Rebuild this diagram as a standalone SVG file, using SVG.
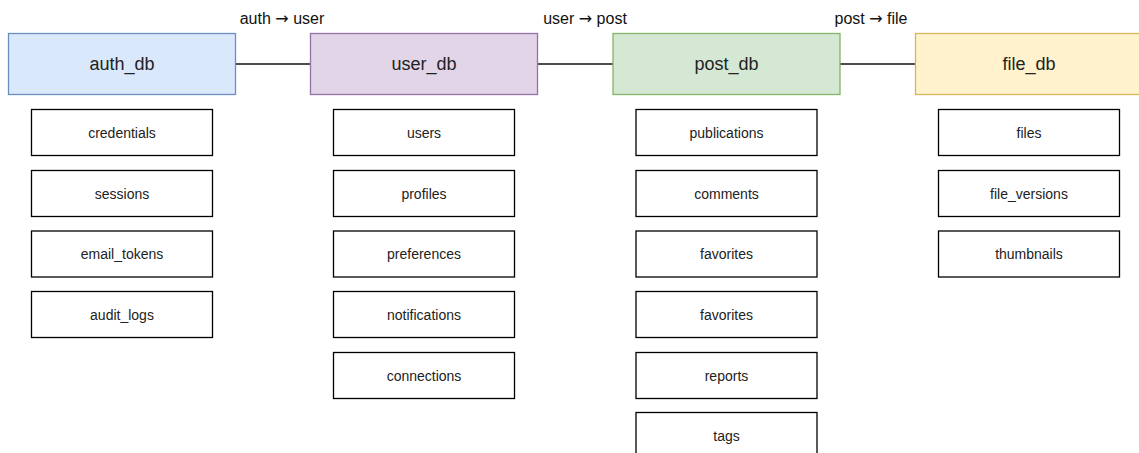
<svg xmlns="http://www.w3.org/2000/svg" width="1139" height="453" viewBox="0 0 1139 453">
<style>
.db{stroke-width:1.3}
.t{fill:#fff;stroke:#000;stroke-width:1.3}
.nl{font-family:"Liberation Sans",Arial,sans-serif;font-size:18px;fill:#222;text-anchor:middle;dominant-baseline:central}
.tl{font-family:"Liberation Sans",Arial,sans-serif;font-size:14px;fill:#222;text-anchor:middle;dominant-baseline:central}
.el{font-family:"Liberation Sans",Arial,sans-serif;font-size:16px;fill:#111;text-anchor:middle}
.ar{font-family:"DejaVu Sans",sans-serif;fill:#111}
.c{stroke:#111;stroke-width:1.3;fill:none}
</style>
<rect width="1139" height="453" fill="#fff"/>
<g id="connectors">
<line class="c" x1="236" y1="64" x2="311" y2="64"/>
<line class="c" x1="538" y1="64" x2="613" y2="64"/>
<line class="c" x1="840" y1="64" x2="915" y2="64"/>
<text class="el" x="282" y="24">auth <tspan class="ar">→</tspan> user</text>
<text class="el" x="585" y="24">user <tspan class="ar">→</tspan> post</text>
<text class="el" x="871" y="24">post <tspan class="ar">→</tspan> file</text>
</g>
<g id="auth_db">
<rect class="db" x="8.5" y="33.5" width="227" height="61" fill="#dae8fc" stroke="#6c8ebf"/>
<text class="nl" x="122" y="64">auth_db</text>
</g>
<g id="user_db">
<rect class="db" x="310.5" y="33.5" width="227" height="61" fill="#e1d5e7" stroke="#9673a6"/>
<text class="nl" x="424" y="64">user_db</text>
</g>
<g id="post_db">
<rect class="db" x="613" y="33.5" width="227" height="61" fill="#d5e8d4" stroke="#82b366"/>
<text class="nl" x="726.5" y="64">post_db</text>
</g>
<g id="file_db">
<rect class="db" x="915.5" y="33.5" width="227" height="61" fill="#fff2cc" stroke="#d6b656"/>
<text class="nl" x="1029" y="64">file_db</text>
</g>
<g id="credentials"><rect class="t" x="31.5" y="109.5" width="181" height="46"/><text class="tl" x="122" y="132.5">credentials</text></g>
<g id="sessions"><rect class="t" x="31.5" y="170.5" width="181" height="46"/><text class="tl" x="122" y="193.5">sessions</text></g>
<g id="email_tokens"><rect class="t" x="31.5" y="231" width="181" height="46"/><text class="tl" x="122" y="254">email_tokens</text></g>
<g id="audit_logs"><rect class="t" x="31.5" y="291.5" width="181" height="46"/><text class="tl" x="122" y="314.5">audit_logs</text></g>
<g id="users"><rect class="t" x="333.5" y="109.5" width="181" height="46"/><text class="tl" x="424" y="132.5">users</text></g>
<g id="profiles"><rect class="t" x="333.5" y="170.5" width="181" height="46"/><text class="tl" x="424" y="193.5">profiles</text></g>
<g id="preferences"><rect class="t" x="333.5" y="231" width="181" height="46"/><text class="tl" x="424" y="254">preferences</text></g>
<g id="notifications"><rect class="t" x="333.5" y="291.5" width="181" height="46"/><text class="tl" x="424" y="314.5">notifications</text></g>
<g id="connections"><rect class="t" x="333.5" y="352.5" width="181" height="46"/><text class="tl" x="424" y="375.5">connections</text></g>
<g id="publications"><rect class="t" x="636" y="109.5" width="181" height="46"/><text class="tl" x="726.5" y="132.5">publications</text></g>
<g id="comments"><rect class="t" x="636" y="170.5" width="181" height="46"/><text class="tl" x="726.5" y="193.5">comments</text></g>
<g id="favorites1"><rect class="t" x="636" y="231" width="181" height="46"/><text class="tl" x="726.5" y="254">favorites</text></g>
<g id="favorites2"><rect class="t" x="636" y="291.5" width="181" height="46"/><text class="tl" x="726.5" y="314.5">favorites</text></g>
<g id="reports"><rect class="t" x="636" y="352.5" width="181" height="46"/><text class="tl" x="726.5" y="375.5">reports</text></g>
<g id="tags"><rect class="t" x="636" y="412.5" width="181" height="46"/><text class="tl" x="726.5" y="435.5">tags</text></g>
<g id="files"><rect class="t" x="938.5" y="109.5" width="181" height="46"/><text class="tl" x="1029" y="132.5">files</text></g>
<g id="file_versions"><rect class="t" x="938.5" y="170.5" width="181" height="46"/><text class="tl" x="1029" y="193.5">file_versions</text></g>
<g id="thumbnails"><rect class="t" x="938.5" y="231" width="181" height="46"/><text class="tl" x="1029" y="254">thumbnails</text></g>
</svg>
